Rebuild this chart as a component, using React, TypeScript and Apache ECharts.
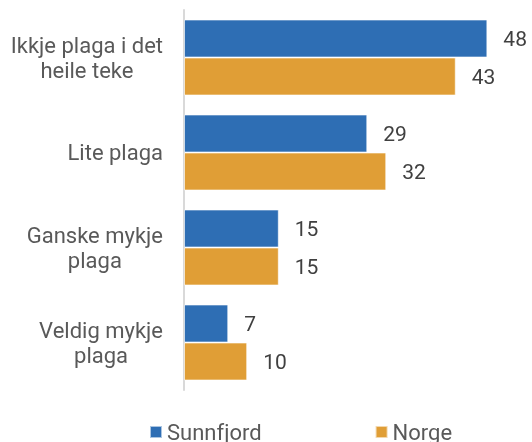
import React, { useEffect, useRef } from "react";
import * as echarts from "echarts";

const categories = [
  "Ikkje plaga i det\nheile teke",
  "Lite plaga",
  "Ganske mykje\nplaga",
  "Veldig mykje\nplaga",
];
const sunnfjord = [48, 29, 15, 7];
const norge = [43, 32, 15, 10];
const seriesNames = ["Sunnfjord", "Norge"];

const FONT = "Roboto";

export default function App() {
  const ref = useRef<HTMLDivElement>(null);
  useEffect(() => {
    if (!ref.current) return;
    document.body.style.margin = "0";
    document.body.style.overflow = "hidden";
    const chart = echarts.init(ref.current, undefined, { renderer: "svg" });
    const labelStyle = {
      show: true,
      position: "right" as const,
      distance: 16,
      fontSize: 21,
      fontFamily: FONT,
      color: "#404040",
    };
    chart.setOption({
      animation: false,
      textStyle: { fontFamily: FONT },
      grid: { left: 184, top: 10, width: 316, height: 380 },
      legend: {
        left: 149,
        top: 421,
        padding: 0,
        icon: "rect",
        itemWidth: 12,
        itemHeight: 12,
        itemGap: 113,
        textStyle: { fontSize: 22, lineHeight: 22, color: "#595959", fontFamily: FONT },
        data: seriesNames,
      },
      xAxis: {
        type: "value",
        min: 0,
        max: 50,
        show: false,
        splitLine: { show: false },
      },
      yAxis: {
        type: "category",
        inverse: true,
        data: categories,
        axisLine: { show: true, lineStyle: { color: "#d9d9d9", width: 2 } },
        axisTick: { show: false },
        axisLabel: {
          margin: 21,
          align: "right",
          formatter: (v: string) =>
            v
              .split("\n")
              .map((l) => `{c|${l}}`)
              .join("\n"),
          rich: {
            c: {
              align: "center",
              fontSize: 22,
              lineHeight: 25,
              color: "#595959",
              fontFamily: FONT,
            },
          },
        },
      },
      series: [
        {
          name: seriesNames[0],
          type: "bar",
          data: sunnfjord,
          barGap: "0%",
          barCategoryGap: "20%",
          itemStyle: { color: "#2E6EB4", borderColor: "rgba(255,255,255,0.6)", borderWidth: 1 },
          label: labelStyle,
        },
        {
          name: seriesNames[1],
          type: "bar",
          data: norge,
          barGap: "0%",
          barCategoryGap: "20%",
          itemStyle: { color: "#E09E36", borderColor: "rgba(255,255,255,0.6)", borderWidth: 1 },
          label: labelStyle,
        },
      ],
    });
    return () => chart.dispose();
  }, []);
  return (
    <div
      ref={ref}
      style={{ position: "fixed", left: 0, top: 0, width: 532, height: 442 }}
    />
  );
}
